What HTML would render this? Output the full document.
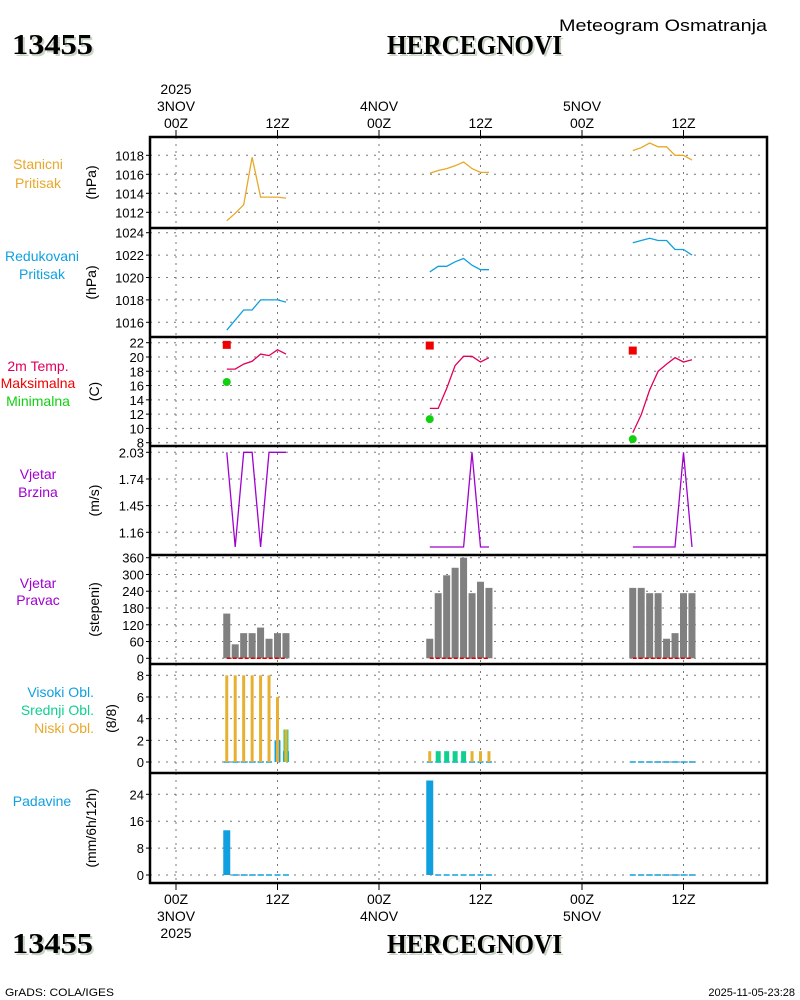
<!DOCTYPE html>
<html><head><meta charset="utf-8">
<style>
html,body{margin:0;padding:0;background:#fff;}
svg{display:block;font-family:"Liberation Sans",sans-serif;}
</style></head>
<body>
<svg id="chart" width="800" height="1000" viewBox="0 0 800 1000" xmlns="http://www.w3.org/2000/svg">
<rect width="800" height="1000" fill="#fff"/>
<g>
<text x="14" y="56" textLength="81" lengthAdjust="spacingAndGlyphs" font-family="Liberation Serif,serif" font-weight="bold" font-size="28" fill="#c8d4c4">13455</text>
<text x="12" y="54" textLength="81" lengthAdjust="spacingAndGlyphs" font-family="Liberation Serif,serif" font-weight="bold" font-size="28" fill="#000">13455</text>
<text x="389" y="56" textLength="175" lengthAdjust="spacingAndGlyphs" font-family="Liberation Serif,serif" font-weight="bold" font-size="27" fill="#c8d4c4">HERCEGNOVI</text>
<text x="387" y="54" textLength="175" lengthAdjust="spacingAndGlyphs" font-family="Liberation Serif,serif" font-weight="bold" font-size="27" fill="#000">HERCEGNOVI</text>
<text x="559" y="31" textLength="208" lengthAdjust="spacingAndGlyphs" font-size="17" fill="#000">Meteogram Osmatranja</text>
</g>
<g>
<text x="14" y="955" textLength="81" lengthAdjust="spacingAndGlyphs" font-family="Liberation Serif,serif" font-weight="bold" font-size="28" fill="#c8d4c4">13455</text>
<text x="12" y="953" textLength="81" lengthAdjust="spacingAndGlyphs" font-family="Liberation Serif,serif" font-weight="bold" font-size="28" fill="#000">13455</text>
<text x="389" y="955" textLength="175" lengthAdjust="spacingAndGlyphs" font-family="Liberation Serif,serif" font-weight="bold" font-size="27" fill="#c8d4c4">HERCEGNOVI</text>
<text x="387" y="953" textLength="175" lengthAdjust="spacingAndGlyphs" font-family="Liberation Serif,serif" font-weight="bold" font-size="27" fill="#000">HERCEGNOVI</text>
<text x="5" y="996" textLength="109" lengthAdjust="spacingAndGlyphs" font-size="11" fill="#000">GrADS: COLA/IGES</text>
<text x="795" y="996" text-anchor="end" font-size="11" fill="#000">2025-11-05-23:28</text>
</g>
<g id="plots"></g>
</svg>
<script>
// ---- data ----
const hours = [6,7,8,9,10,11,12,13, 30,31,32,33,34,35,36,37, 54,55,56,57,58,59,60,61];
const timeTicks = [0,12,24,36,48,60];
const timeTickLabels = ["00Z","12Z","00Z","12Z","00Z","12Z"];
const dateLabels = ["3NOV","4NOV","5NOV"];
const stationPressure = [1011.1,1011.9,1012.8,1017.8,1013.6,1013.6,1013.6,1013.5, 1016.1,1016.4,1016.6,1016.9,1017.3,1016.6,1016.2,1016.2, 1018.5,1018.8,1019.3,1018.9,1018.9,1018.0,1018.0,1017.5];
const reducedPressure = [1015.3,1016.2,1017.1,1017.1,1018.0,1018.0,1018.0,1017.8, 1020.5,1021.0,1021.0,1021.4,1021.7,1021.1,1020.7,1020.7, 1023.1,1023.3,1023.5,1023.3,1023.3,1022.5,1022.5,1022.0];
const temperature = [18.3,18.3,19.0,19.4,20.4,20.2,21.0,20.4, 12.8,12.8,15.6,18.8,20.1,20.1,19.3,19.9, 9.4,11.9,15.4,18.0,19.0,19.9,19.3,19.6];
const maxTempHours = [6,30,54];
const maxTemp = [21.7,21.6,20.9];
const minTemp = [16.5,11.3,8.5];
const windSpeed = [2.03,1.0,2.03,2.03,1.0,2.03,2.03,2.03, 1.0,1.0,1.0,1.0,1.0,2.03,1.0,1.0, 1.0,1.0,1.0,1.0,1.0,1.0,2.03,1.0];
const windDir = [160,50,90,90,110,70,90,90, 70,233,297,324,360,233,274,252, 252,252,233,233,70,90,233,233];
const highCloud = [0,0,0,0,0,0,2,1, 0,0,0,0,0,0,0,0, 0,0,0,0,0,0,0,0];
const midCloud = [0,0,0,0,0,0,0,3, 0,1,1,1,1,0,0,0, 0,0,0,0,0,0,0,0];
const lowCloud = [8,8,8,8,8,8,6,3, 1,0,0,0,0,1,1,1, 0,0,0,0,0,0,0,0];
const precip = [13.3,0,0,0,0,0,0,0, 28.1,0,0,0,0,0,0,0, 0,0,0,0,0,0,0,0];

// ---- helpers ----
const NS="http://www.w3.org/2000/svg";
const root=document.getElementById('plots');
const X0=150, X1=767;
function xs(h){return 176 + h*(101.5/12);}
function mk(tag,attrs,parent){const e=document.createElementNS(NS,tag);for(const k in attrs)e.setAttribute(k,attrs[k]);(parent||root).appendChild(e);return e;}
function lin(d0,d1,p0,p1){return v=>p0+(v-d0)*(p1-p0)/(d1-d0);}

const panels=[
 {name:'station-pressure',top:137,bot:228,ys:lin(1018,1012,155.3,212.3),ticks:[1012,1014,1016,1018],unit:'(hPa)',ux:96,lx:38,anchor:'middle',labels:[['Stanicni','#e8a828',169],['Pritisak','#e8a828',188]]},
 {name:'reduced-pressure',top:228,bot:337,ys:lin(1024,1016,232.7,322.3),ticks:[1016,1018,1020,1022,1024],unit:'(hPa)',ux:96,lx:42,anchor:'middle',labels:[['Redukovani','#10a0e0',261],['Pritisak','#10a0e0',279]]},
 {name:'temperature',top:337,bot:446,ys:lin(22,8,342.7,442.7),ticks:[8,10,12,14,16,18,20,22],unit:'(C)',ux:99,lx:38,anchor:'middle',labels:[['2m Temp.','#e0005a',371],['Maksimalna','#f00000',388],['Minimalna','#10d010',406]]},
 {name:'wind-speed',top:446,bot:555,ys:lin(2.03,1.16,452.3,532.3),ticks:[1.16,1.45,1.74,2.03],tickFmt:v=>v.toFixed(2),unit:'(m/s)',ux:99,lx:38,anchor:'middle',labels:[['Vjetar','#a000d0',479],['Brzina','#a000d0',497]]},
 {name:'wind-direction',top:555,bot:664,ys:lin(0,360,658.3,557.7),ticks:[0,60,120,180,240,300,360],unit:'(stepeni)',ux:99,lx:38,anchor:'middle',labels:[['Vjetar','#a000d0',588],['Pravac','#a000d0',605]]},
 {name:'cloud-cover',top:664,bot:773,ys:lin(0,8,762,675.3),ticks:[0,2,4,6,8],unit:'(8/8)',ux:116,lx:94,anchor:'end',labels:[['Visoki Obl.','#10a0e0',697],['Srednji Obl.','#10d090',715],['Niski Obl.','#e8a828',733]]},
 {name:'precipitation',top:773,bot:883,ys:lin(0,24,875,794.3),ticks:[0,8,16,24],unit:'(mm/6h/12h)',ux:96,lx:42,anchor:'middle',labels:[['Padavine','#10a0e0',806]]}
];

panels.forEach(p=>{
 const g=mk('g',{});
 
 
 p.g=g;
 timeTicks.forEach(h=>{const l=mk('line',{x1:xs(h),x2:xs(h),y1:p.top,y2:p.bot,stroke:'#777','stroke-dasharray':'2,5'},g);
  });
 p.ticks.forEach(t=>{
  const y=p.ys(t);
  const l=mk('line',{x1:X0,x2:X1,y1:y,y2:y,stroke:'#777','stroke-dasharray':'2,6'},g);
  
  
  const tk=mk('line',{x1:X0-4,x2:X0,y1:y,y2:y,stroke:'#000'},g);
  
  
  const tx=mk('text',{x:X0-6,y:y+5,'text-anchor':'end','font-size':'13',fill:'#000'},g);
  tx.textContent=p.tickFmt?p.tickFmt(t):String(t);
  
  
 });
 const mid=(p.top+p.bot)/2;
 const u=mk('text',{x:0,y:0,'text-anchor':'middle','font-size':'14',fill:'#000',transform:`translate(${p.ux},${mid}) rotate(-90)`},g);
 u.textContent=p.unit;
 
 
 p.labels.forEach(lb=>{
  const t=mk('text',{x:p.lx,y:lb[2],'text-anchor':p.anchor,'font-size':'14',fill:lb[1]},g);
  t.textContent=lb[0];
  
  
 });
});

const fr=mk('rect',{x:X0,y:137,width:X1-X0,height:883-137,fill:'none',stroke:'#000','stroke-width':'2.5'});


[228,337,446,555,664,773].forEach(y=>{const l=mk('line',{x1:X0,x2:X1,y1:y,y2:y,stroke:'#000','stroke-width':'2.5'});
 });

timeTicks.forEach((h,i)=>{
 const x=xs(h);
 [[130,137],[883,890]].forEach(a=>{const t=mk('line',{x1:x,x2:x,y1:a[0],y2:a[1],stroke:'#000'});
  });
 const top=mk('text',{x:x,y:128,'text-anchor':'middle','font-size':'14',fill:'#000'});
 top.textContent=timeTickLabels[i];
 
 
 const bt=mk('text',{x:x,y:904,'text-anchor':'middle','font-size':'14',fill:'#000'});
 bt.textContent=timeTickLabels[i];
 
 
 if(i%2===0){
  const d=mk('text',{x:x,y:111,'text-anchor':'middle','font-size':'14',fill:'#000'});
  d.textContent=dateLabels[i/2];
  
  
  const d2=mk('text',{x:x,y:921,'text-anchor':'middle','font-size':'14',fill:'#000'});
  d2.textContent=dateLabels[i/2];
  
  
 }
});
const y1=mk('text',{x:xs(0),y:94,'text-anchor':'middle','font-size':'14',fill:'#000'});
y1.textContent='2025';


const y2=mk('text',{x:xs(0),y:938,'text-anchor':'middle','font-size':'14',fill:'#000'});
y2.textContent='2025';



function lineSeries(p,vals,color,name){
 for(let s=0;s<3;s++){
  const pts=[];
  for(let i=s*8;i<s*8+8;i++)pts.push(xs(hours[i]).toFixed(1)+','+p.ys(vals[i]).toFixed(1));
  const pl=mk('polyline',{points:pts.join(' '),fill:'none',stroke:color,'stroke-width':'1.3'},p.g);
  
  
 }
}
lineSeries(panels[0],stationPressure,'#e8a828','station-pressure-line');
lineSeries(panels[1],reducedPressure,'#10a0e0','reduced-pressure-line');
lineSeries(panels[2],temperature,'#e0005a','temperature-line');
lineSeries(panels[3],windSpeed,'#a000d0','wind-speed-line');

maxTemp.forEach((v,i)=>{
 const r=mk('rect',{x:xs(maxTempHours[i])-4,y:panels[2].ys(v)-4,width:8,height:8,fill:'#f00000'},panels[2].g);
 
 
 const c=mk('circle',{cx:xs(maxTempHours[i]),cy:panels[2].ys(minTemp[i]),r:4,fill:'#10d010'},panels[2].g);
 
 
});

function bars(p,vals,color,w,name,zeroColor){
 vals.forEach((v,i)=>{
  const x=xs(hours[i]);
  const y0=p.ys(0);
  if(v>0){
   const y=p.ys(v);
   const r=mk('rect',{x:x-w/2,y:y,width:w,height:y0-y,fill:color},p.g);
   
   
  } else if(zeroColor){
   const l=mk('line',{x1:x-3,x2:x+3,y1:y0,y2:y0,stroke:zeroColor,'stroke-width':'1.5'},p.g);
   
   
  }
 });
}
bars(panels[4],windDir,'#808080',7,'wind-direction-bar');
for(let s=0;s<3;s++){
 const y=panels[4].ys(0);
 const l=mk('line',{x1:xs(hours[s*8]),x2:xs(hours[s*8+7]),y1:y,y2:y,stroke:'#e00000','stroke-dasharray':'4,2','stroke-width':'1.5'},panels[4].g);
 
 
}
bars(panels[5],highCloud,'#10a0e0',6,'high-cloud-bar','#10a0e0');
bars(panels[5],midCloud,'#10d090',5,'mid-cloud-bar');
bars(panels[5],lowCloud,'#e8b030',3,'low-cloud-bar');
bars(panels[6],precip,'#10a0e0',7,'precipitation-bar','#10a0e0');
</script>
</body></html>
